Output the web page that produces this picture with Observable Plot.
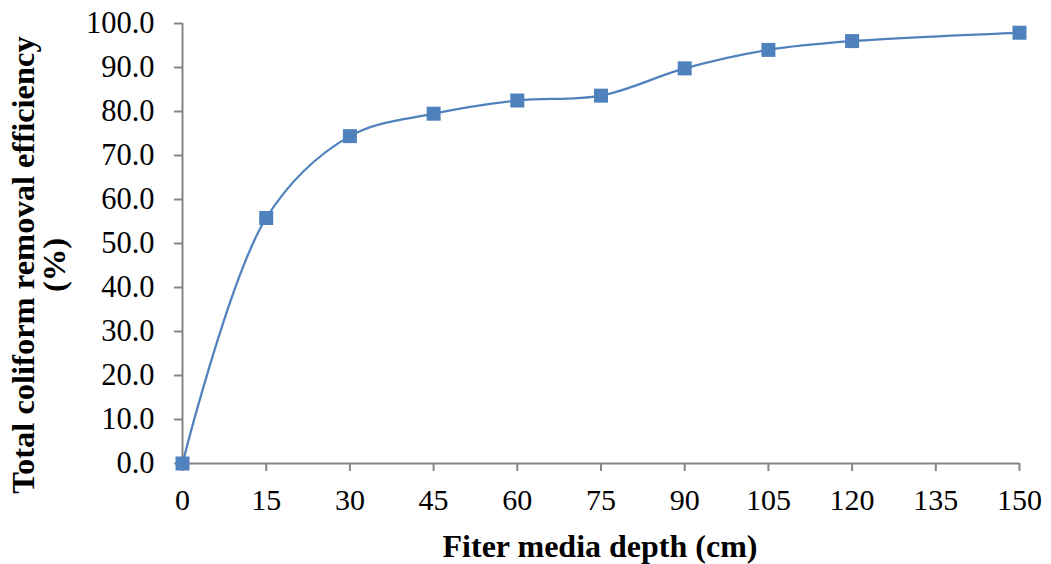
<!DOCTYPE html>
<html>
<head>
<meta charset="utf-8">
<script src="https://cdn.jsdelivr.net/npm/d3@7"></script>
<script src="https://cdn.jsdelivr.net/npm/@observablehq/plot@0.6"></script>
<style>
  html, body { margin: 0; padding: 0; background: #fff; }
  #chart svg { display: block; }
  #chart svg, #chart svg text, #chart svg tspan { font-family: 'Liberation Serif', 'Times New Roman', serif !important; }
</style>
</head>
<body>
<div id="chart"></div>
<script>
const depths = [0, 15, 30, 45, 60, 75, 90, 105, 120, 150];
const efficiency = [0, 55.8, 74.4, 79.5, 82.5, 83.6, 89.8, 94.0, 96.0, 97.9];
const xTicks = [0, 15, 30, 45, 60, 75, 90, 105, 120, 135, 150];
const yTicks = [0, 10, 20, 30, 40, 50, 60, 70, 80, 90, 100];
const xTitle = "Fiter media depth (cm)";
const yTitleLines = ["Total coliform removal efficiency", "(%)"];

const data = depths.map((d, i) => ({depth: d, eff: efficiency[i]}));
const axisColor = "#868686";
const seriesColor = "#4F81BD";
const font = "'Liberation Serif', 'Times New Roman', serif";

const plot = Plot.plot({
  width: 1051,
  height: 564,
  marginLeft: 182,
  marginRight: 32,
  marginTop: 23,
  marginBottom: 101,
  style: {fontFamily: font, background: "#fff", color: "#000"},
  x: {domain: [0, 150]},
  y: {domain: [0, 100]},
  marks: [
    Plot.ruleX([0], {y1: 0, y2: 100, stroke: axisColor, strokeWidth: 2}),
    Plot.ruleY([0], {x1: 0, x2: 150, stroke: axisColor, strokeWidth: 2}),
    Plot.axisX({ticks: xTicks, tickSize: 8, tickPadding: 17, stroke: axisColor, strokeWidth: 2,
      fontSize: 30, fill: "#000", label: null, tickFormat: d => String(d)}),
    Plot.axisY({ticks: yTicks, tickSize: 8, tickPadding: 20, stroke: axisColor, strokeWidth: 2,
      fontSize: 30.5, fill: "#000", label: null, tickFormat: d3.format(".1f")}),
    Plot.line(data, {x: "depth", y: "eff", curve: "catmull-rom", stroke: seriesColor, strokeWidth: 2.25}),
    Plot.dot(data, {x: "depth", y: "eff", symbol: "square", r: 7.9, fill: seriesColor, stroke: null})
  ]
});

const svg = d3.select(plot);
svg.append("text")
  .attr("x", 600)
  .attr("y", 557)
  .attr("text-anchor", "middle")
  .attr("font-weight", "bold")
  .attr("font-size", 32)
  .attr("fill", "#000")
  .text(xTitle);
const yt = svg.append("text")
  .attr("transform", "translate(34,265) rotate(-90)")
  .attr("text-anchor", "middle")
  .attr("font-weight", "bold")
  .attr("font-size", 32.5)
  .attr("fill", "#000");
yTitleLines.forEach((line, i) => {
  yt.append("tspan").attr("x", 0).attr("dy", i === 0 ? 0 : 31).text(line);
});

document.getElementById("chart").appendChild(plot);
</script>
</body>
</html>
